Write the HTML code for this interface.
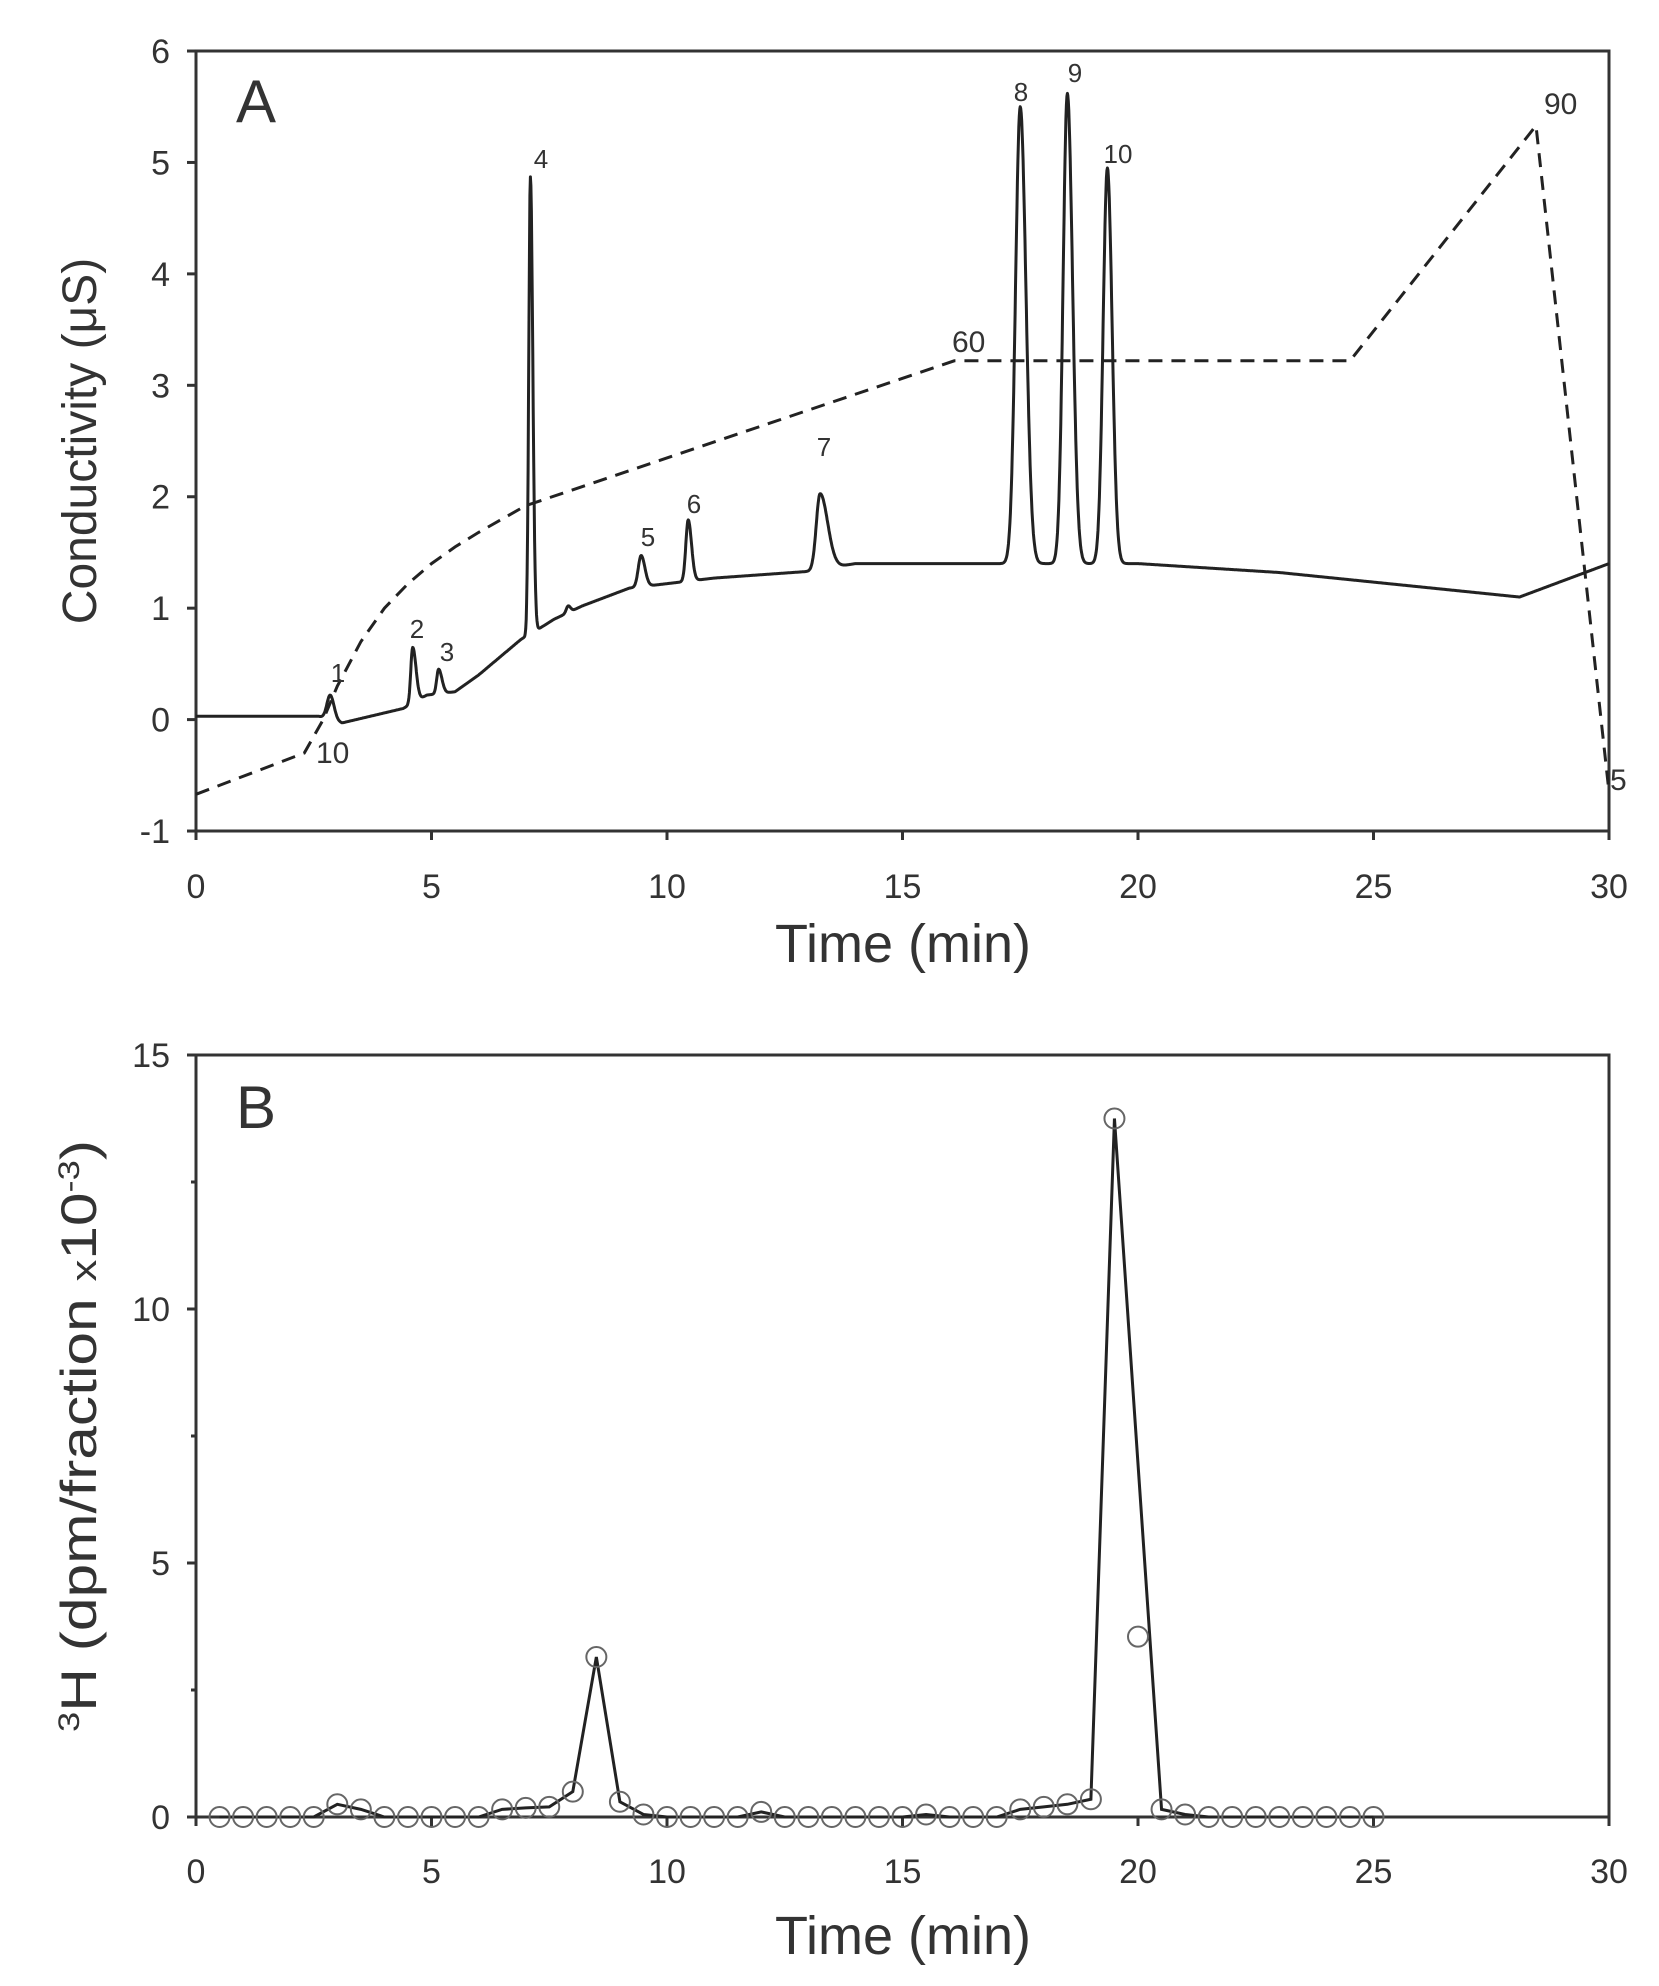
<!DOCTYPE html>
<html><head><meta charset="utf-8"><style>
html,body{margin:0;padding:0;background:#fff;}
svg{display:block;}
text{font-family:"Liberation Sans",sans-serif;fill:#333;}
</style></head><body>
<svg id="s" width="1659" height="1986" viewBox="0 0 1659 1986" xmlns="http://www.w3.org/2000/svg">
<g stroke="#333" stroke-width="3" fill="none">
<rect x="196" y="51" width="1413" height="780"/>
<rect x="196" y="1055" width="1413" height="762"/>
</g>
<g id="ticks" stroke="#333" stroke-width="3"></g>
<g id="labels" font-size="34" text-anchor="middle"></g>
<text x="903" y="962" font-size="54" text-anchor="middle">Time (min)</text>
<text x="903" y="1954" font-size="54" text-anchor="middle">Time (min)</text>
<text transform="translate(96,441) rotate(-90)" font-size="48" text-anchor="middle">Conductivity (μS)</text>
<text transform="translate(96,1436) rotate(-90)" font-size="50" text-anchor="middle" textLength="592" lengthAdjust="spacingAndGlyphs"><tspan font-size="30" dy="-17">3</tspan><tspan dy="17">H (dpm/fraction </tspan><tspan font-size="36">x</tspan><tspan>10</tspan><tspan font-size="30" dy="-17">-3</tspan><tspan dy="17">)</tspan></text>
<text x="236" y="122" font-size="60">A</text>
<text x="236" y="1128" font-size="60">B</text>
<path id="dash" stroke="#222" stroke-width="3" fill="none" stroke-dasharray="14,9"/>
<path id="cond" stroke="#222" stroke-width="3" fill="none" stroke-linejoin="round"/>
<g font-size="26" text-anchor="middle" fill="#333">
<text x="338" y="682">1</text><text x="417" y="638">2</text><text x="447" y="661">3</text>
<text x="541" y="168">4</text><text x="648" y="546">5</text><text x="694" y="513">6</text>
<text x="824" y="456">7</text><text x="1021" y="101">8</text><text x="1075" y="82">9</text>
<text x="1118" y="163">10</text>
</g>
<g font-size="30" fill="#333">
<text x="316" y="763">10</text><text x="952" y="352">60</text><text x="1544" y="114">90</text><text x="1610" y="790">5</text>
</g>
<path id="bline" stroke="#222" stroke-width="3" fill="none"/>
<g id="circ" stroke="#666" stroke-width="2" fill="none"></g>
</svg>
<script>
var X=t=>196+47.1*t, YA=v=>719.6-111.43*v, YB=v=>1817-50.8*v;
var tk=document.getElementById('ticks'),lb=document.getElementById('labels'),s='',l='';
for(var i=0;i<=30;i+=5){var x=X(i);s+=`<line x1="${x}" y1="831" x2="${x}" y2="840"/><line x1="${x}" y1="1817" x2="${x}" y2="1826"/>`;l+=`<text x="${x}" y="898">${i}</text><text x="${x}" y="1883">${i}</text>`;}
for(var v=-1;v<=6;v++){var y=YA(v);s+=`<line x1="187" y1="${y}" x2="196" y2="${y}"/>`;l+=`<text x="170" y="${y+12}" text-anchor="end">${v}</text>`;}
for(var v=0;v<=15;v+=2.5){var y=YB(v);var maj=v%5==0;s+=`<line x1="${maj?187:191}" y1="${y}" x2="196" y2="${y}"/>`;if(maj)l+=`<text x="170" y="${y+12}" text-anchor="end">${v}</text>`;}
tk.innerHTML=s;lb.innerHTML=l;
var bp=[[0,0.03],[2.6,0.03],[3.1,-0.03],[4.4,0.1],[4.9,0.22],[5.5,0.25],[6.0,0.4],[6.9,0.72],[7.3,0.82],[7.6,0.9],[8.2,1.02],[9.2,1.18],[10,1.22],[11,1.27],[13,1.33],[14,1.4],[17.2,1.4],[20,1.4],[23,1.32],[28.1,1.1],[30,1.4]];
function base(t){for(var i=0;i<bp.length-1;i++){if(t<=bp[i+1][0]){var a=bp[i],b=bp[i+1];return a[1]+(b[1]-a[1])*(t-a[0])/(b[0]-a[0]);}}return 1.4;}
var pk=[[2.85,0.22,0.07,0.08],[4.6,0.5,0.04,0.07],[5.15,0.22,0.04,0.07],[7.1,4.1,0.035,0.05],[7.9,0.06,0.04,0.05],[9.45,0.28,0.06,0.08],[10.45,0.55,0.05,0.07],[13.25,0.68,0.08,0.16],[17.5,4.1,0.1,0.12],[18.5,4.22,0.09,0.11],[19.35,3.55,0.09,0.1]];
var d='';for(var t=0;t<=30.0001;t+=0.01){var v=base(t);pk.forEach(p=>{var sg=t<p[0]?p[2]:p[3];v+=p[1]*Math.exp(-0.5*Math.pow((t-p[0])/sg,2));});d+=(d?'L':'M')+X(t).toFixed(1)+','+YA(v).toFixed(1);}
document.getElementById('cond').setAttribute('d',d);
var dp=[[0,-0.67],[2.3,-0.3],[2.7,0.0],[3,0.3],[3.5,0.7],[4,1.0],[4.5,1.22],[5,1.4],[5.5,1.55],[6,1.68],[6.5,1.8],[7,1.92],[16.1,3.22],[24.5,3.22],[28.45,5.33],[30,-0.65]];
document.getElementById('dash').setAttribute('d','M'+dp.map(p=>X(p[0]).toFixed(1)+','+YA(p[1]).toFixed(1)).join('L'));
var vals={3:0.25,3.5:0.15,6.5:0.15,7:0.18,7.5:0.2,8:0.5,8.5:3.15,9:0.3,9.5:0.05,12:0.1,15.5:0.05,17.5:0.15,18:0.2,18.5:0.25,19:0.35,19.5:13.75,20:3.55,20.5:0.15,21:0.05};
var c='',ld='';for(var t=0.5;t<=25.001;t+=0.5){var k=Math.round(t*2)/2;var v=vals[k]||0;c+=`<circle cx="${X(k)}" cy="${YB(v)}" r="10"/>`;if(k!==20)ld+=(ld?'L':'M')+X(k)+','+YB(v);}
document.getElementById('circ').innerHTML=c;document.getElementById('bline').setAttribute('d',ld);
</script>
</body></html>
